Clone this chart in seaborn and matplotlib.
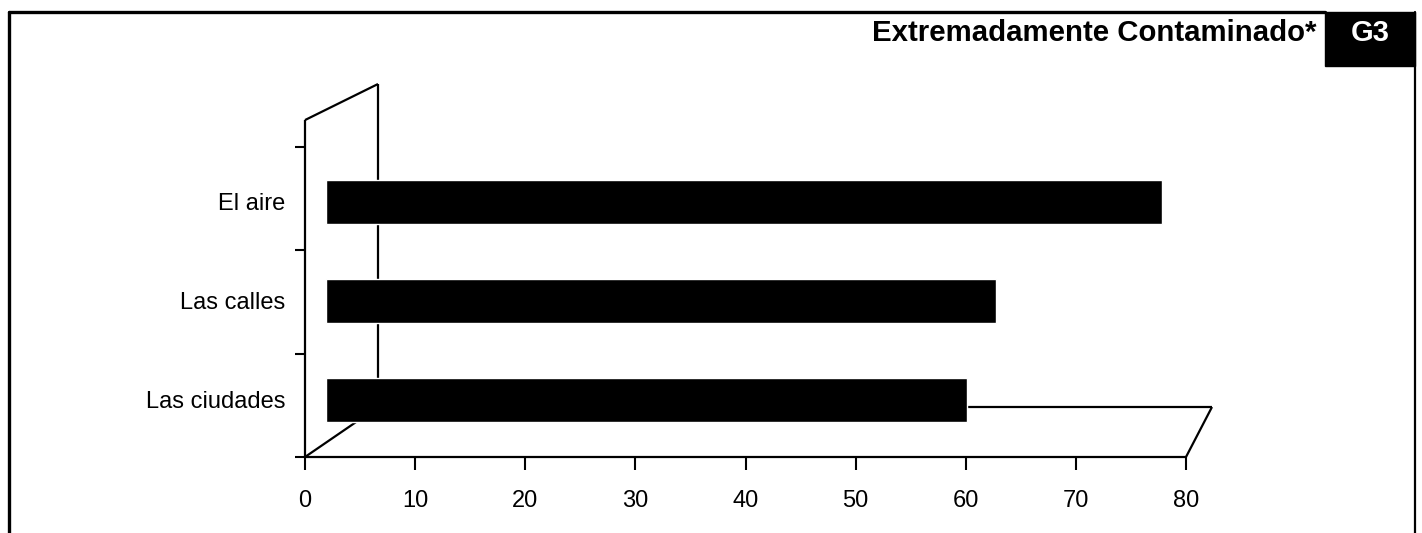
import pandas as pd
import seaborn as sns
import matplotlib
import matplotlib.pyplot as plt
from matplotlib.lines import Line2D
from matplotlib.patches import Rectangle

matplotlib.use('Agg')

# Data
categories = ["El aire", "Las calles", "Las ciudades"]
values = [77.1, 61.8, 59.1]
x_ticks = [0, 10, 20, 30, 40, 50, 60, 70, 80]
title = "Extremadamente Contaminado*"
tag = "G3"

df = pd.DataFrame({"categoria": categories, "porcentaje": values})

sns.set_style("white")
plt.rcParams['font.family'] = ['Liberation Sans', 'DejaVu Sans']
plt.rcParams['text.color'] = 'black'
plt.rcParams['xtick.color'] = 'black'
plt.rcParams['ytick.color'] = 'black'

W, H = 1422, 533
fig = plt.figure(figsize=(W / 100, H / 100), dpi=100)

# axes box in pixels: x 305..1186, y 84..457
pos = [305 / W, (H - 457) / H, (1186 - 305) / W, (457 - 84) / H]

# front plane axes (ticks + 3D frame)
ax = fig.add_axes(pos)
ax.set_xlim(0, 80)
ax.set_ylim(0, 3.61)
for s in ax.spines.values():
    s.set_visible(False)
ax.set_xticks(x_ticks)
ax.set_xticklabels([str(t) for t in x_ticks], fontsize=17)
ax.set_yticks([0, 1, 2, 3])
ax.set_yticklabels([])
ax.tick_params(axis='x', direction='out', length=9.5, width=1.5, pad=14, bottom=True)
ax.tick_params(axis='y', direction='out', length=7, width=1.5, left=True)

# pseudo-3D frame
dx_l, dy_f, dx_r = 6.63, 0.484, 82.36
frame = [
    ([0, 80], [0, 0]),
    ([0, 0], [0, 3.261]),
    ([0, dx_l], [3.261, 3.61]),
    ([dx_l, dx_l], [dy_f, 3.61]),
    ([0, dx_l], [0, dy_f]),
    ([dx_l, dx_r], [dy_f, dy_f]),
    ([dx_r, 80], [dy_f, 0]),
]
for xs, ys in frame:
    ax.plot(xs, ys, color='black', lw=1.6, clip_on=False, solid_capstyle='butt')

# bars drawn on a plane set back in depth
ax_b = fig.add_axes(pos)
ax_b.patch.set_alpha(0)
sns.barplot(data=df, x="porcentaje", y="categoria", color="black",
            width=0.444, saturation=1, ax=ax_b)
ax_b.set_xlim(-1.937, 79.31)
ax_b.set_ylim(2.576, -1.192)
for s in ax_b.spines.values():
    s.set_visible(False)
ax_b.set_xticks([])
ax_b.set_xlabel("")
ax_b.set_ylabel("")
ax_b.tick_params(axis='y', length=0, pad=14.4, labelsize=17)

# outer frame and tag box
fig.add_artist(Line2D([9 / W, 9 / W], [0, 1 - 12 / H], color='black', lw=2.4))
fig.add_artist(Line2D([9 / W, 1325 / W], [1 - 12 / H, 1 - 12 / H], color='black', lw=2.4))
fig.add_artist(Line2D([1415 / W, 1415 / W], [0, 1 - 12 / H], color='black', lw=1.6))
fig.add_artist(Rectangle((1325 / W, 1 - 66 / H), 90 / W, 54 / H,
                         transform=fig.transFigure, color='black'))

fig.text(1317 / W, 1 - 33 / H, title, ha='right', va='center',
         fontsize=21.2, fontweight='bold')
fig.text(1370 / W, 1 - 33 / H, tag, ha='center', va='center',
         fontsize=21, fontweight='bold', color='white')

fig.savefig("out.png", dpi=100)
plt.close()
